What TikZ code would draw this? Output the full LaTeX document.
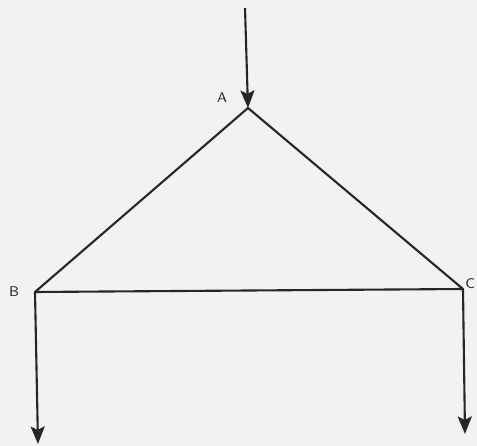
\documentclass[tikz,border=0pt]{standalone}
\usepackage{xcolor}
\usepackage{tikz}
\usetikzlibrary{arrows.meta, positioning, calc}

\begin{document}
\begin{tikzpicture}[
    x=0.02cm, y=-0.02cm,
    wire/.style={draw=black!85, line width=1.2pt},
    flow/.style={wire, -{Stealth[length=10pt, width=8pt, inset=2pt]}},
    lbl/.style={font=\sffamily\footnotesize, text=black!85}
]
% ------- Page (scan background) -------
\clip (0,0) rectangle (477,446);
\fill[black!5] (0,0) rectangle (477,446);

% ------- Corner points -------
\coordinate (A) at (248,108);
\coordinate (B) at (35,292);
\coordinate (C) at (463,289);
\coordinate (src) at (245,8);
\coordinate (outB) at (38,444);
\coordinate (outC) at (465,434);

% ------- Labels -------
\node[lbl] (labA) at (222,98) {A};
\node[lbl] (labB) at (14,292) {B};
\node[lbl, anchor=east, inner sep=1pt] (labC) at (477,284) {C};

% ------- Triangle -------
\draw[wire, line join=round] (A) -- (B) -- (C) -- cycle;

% ------- Input and outputs -------
\draw[flow] (src) -- (A);
\draw[flow] (B) -- (outB);
\draw[flow] (C) -- (outC);
\end{tikzpicture}
\end{document}
